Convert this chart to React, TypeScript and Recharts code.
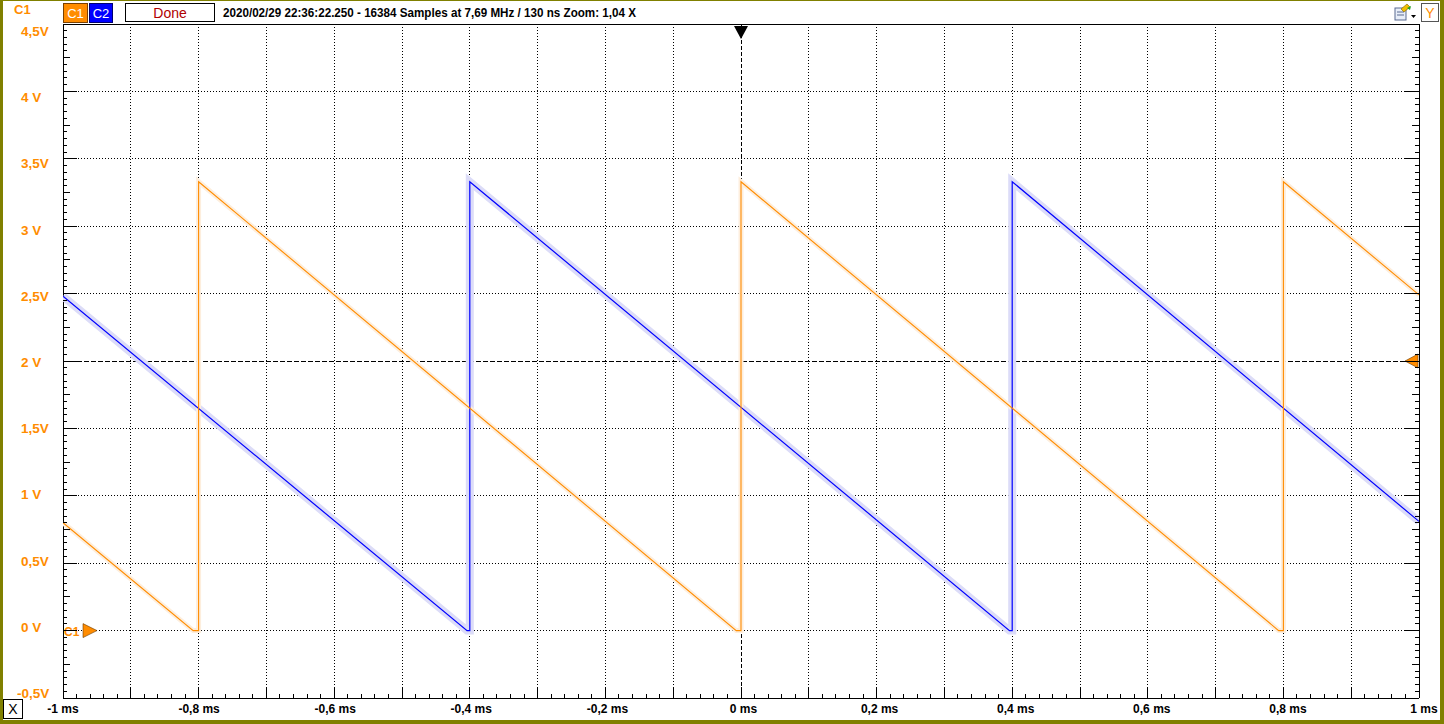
import React from "react";
import {
  CartesianGrid,
  Line,
  LineChart,
  ReferenceDot,
  ReferenceLine,
  XAxis,
  YAxis,
} from "recharts";

// waveform vertices (ms, V)
const c1Time = [-1, -0.808, -0.8, -0.8, -0.007, 0, 0, 0.793, 0.8, 0.8, 1];
const c1Volts = [0.8, 0, 0, 3.33, 0, 0, 3.33, 0, 0, 3.33, 2.49];
const c2Time = [-1, -0.404, -0.4, -0.4, 0.396, 0.4, 0.4, 1];
const c2Volts = [2.48, 0, 0, 3.33, 0, 0, 3.33, 0.81];

const timeLabels = [-1, -0.8, -0.6, -0.4, -0.2, 0, 0.2, 0.4, 0.6, 0.8, 1];
const voltLabels = [-0.5, 0, 0.5, 1, 1.5, 2, 2.5, 3, 3.5, 4, 4.5];
const gridTimes = [-0.9, -0.8, -0.7, -0.6, -0.5, -0.4, -0.3, -0.2, -0.1, 0.1, 0.2, 0.3, 0.4, 0.5, 0.6, 0.7, 0.8, 0.9];
const gridVolts = [0, 0.5, 1, 1.5, 2.5, 3, 3.5, 4];

const triggerLevel = 2;
const c1Offset = 0;

const bottomTicks = Array.from({ length: 101 }, (_, i) => Math.round((-1 + i * 0.02) * 1000) / 1000);
const topTicks = Array.from({ length: 121 }, (_, i) => (i - 60) / 60);
const sideTicks = Array.from({ length: 101 }, (_, i) => Math.round((-0.5 + i * 0.05) * 1000) / 1000);

const c1Data = c1Time.map((t, i) => ({ t, v: c1Volts[i] }));
const c2Data = c2Time.map((t, i) => ({ t, v: c2Volts[i] }));

const ORANGE = "#ff8c00";
const BLUE = "#0000ff";
const FONT = "'Liberation Sans', Arial, sans-serif";

const isLabel = (list: number[], v: number) => list.some((x) => Math.abs(x - v) < 1e-6);
const fmtVolt = (v: number) => (Number.isInteger(v) ? `${v} V` : `${String(v).replace(".", ",")}V`);
const fmtTime = (v: number) => `${String(v).replace(".", ",")} ms`;

const BottomTick = (props: any) => {
  const { x, y, payload } = props;
  const v = payload.value;
  const k = Math.round((v + 1) * 50);
  const len = k % 5 === 0 ? 11 : 4;
  return (
    <g>
      <line x1={x} x2={x} y1={y} y2={y - len} stroke="#000" shapeRendering="crispEdges" />
      {isLabel(timeLabels, v) && (
        <text
          x={x + (v + 1) * 2.5}
          y={y + 15}
          textAnchor="middle"
          fontFamily={FONT}
          fontWeight="bold"
          fontSize={12}
          fill="#000"
        >
          {fmtTime(v)}
        </text>
      )}
    </g>
  );
};

const TopTick = (props: any) => {
  const { x, y, payload } = props;
  const k = Math.round((payload.value + 1) * 60);
  const len = k % 6 === 0 ? 10 : 6;
  return <line x1={x} x2={x} y1={y} y2={y + len} stroke="#000" shapeRendering="crispEdges" />;
};

const sideLen = (v: number) => {
  const k = Math.round((v + 0.5) * 20);
  return k % 10 === 0 ? 14 : k % 5 === 0 ? 7 : 4;
};

const LeftTick = (props: any) => {
  const { x, y, payload } = props;
  const v = payload.value;
  const labelY = y + (-5 + (v + 0.5) * 2.4) + 5;
  return (
    <g>
      <line x1={x} x2={x + sideLen(v)} y1={y} y2={y} stroke="#000" shapeRendering="crispEdges" />
      {isLabel(voltLabels, v) && (
        <text
          x={x - (v < 0 ? 46 : 42)}
          y={labelY}
          textAnchor="start"
          fontFamily={FONT}
          fontWeight="bold"
          fontSize={13.5}
          fill={ORANGE}
        >
          {fmtVolt(v)}
        </text>
      )}
    </g>
  );
};

const RightTick = (props: any) => {
  const { x, y, payload } = props;
  return <line x1={x} x2={x - sideLen(payload.value)} y1={y} y2={y} stroke="#000" shapeRendering="crispEdges" />;
};

const TriggerTimeMark = (p: any) => (
  <path d={`M${p.cx - 7},${p.cy + 2} L${p.cx + 7},${p.cy + 2} L${p.cx},${p.cy + 15} Z`} fill="#000" />
);

const TriggerLevelMark = (p: any) => (
  <path
    d={`M${p.cx - 1},${p.cy - 7} L${p.cx - 1},${p.cy + 7} L${p.cx - 14},${p.cy} Z`}
    fill={ORANGE}
    stroke="#6b3a00"
    strokeWidth={0.6}
  />
);

const OffsetMark = (p: any) => (
  <g>
    <text x={p.cx + 1} y={p.cy + 5} fontFamily={FONT} fontWeight="bold" fontSize={12} fill={ORANGE}>
      C1
    </text>
    <path
      d={`M${p.cx + 20},${p.cy - 7} L${p.cx + 20},${p.cy + 7} L${p.cx + 34},${p.cy} Z`}
      fill={ORANGE}
      stroke="#6b3a00"
      strokeWidth={0.6}
    />
  </g>
);

const box = (extra: React.CSSProperties): React.CSSProperties => ({
  position: "absolute",
  boxSizing: "border-box",
  display: "flex",
  alignItems: "center",
  justifyContent: "center",
  fontFamily: FONT,
  ...extra,
});

const axisCommon = {
  interval: 0 as const,
  tickSize: 0,
  tickMargin: 0,
  tickLine: false,
  axisLine: false,
  allowDataOverflow: true,
  type: "number" as const,
};

export default function App() {
  return (
    <div
      style={{
        position: "absolute",
        left: 0,
        top: 0,
        width: 1444,
        height: 724,
        background: "#fff",
        overflow: "hidden",
      }}
    >
      <LineChart
        width={1444}
        height={724}
        margin={{ top: 23, right: 24, bottom: 25, left: 62 }}
        style={{ position: "absolute", left: 0, top: 0 }}
      >
        <XAxis xAxisId="g" type="number" dataKey="t" domain={[-1, 1]} ticks={gridTimes} hide allowDataOverflow />
        <YAxis yAxisId="g" type="number" domain={[-0.5, 4.5]} ticks={gridVolts} hide allowDataOverflow />
        <CartesianGrid xAxisId="g" yAxisId="g" stroke="#000" strokeDasharray="1 2" shapeRendering="crispEdges" />
        <XAxis {...axisCommon} dataKey="t" domain={[-1, 1]} ticks={bottomTicks} height={1} tick={<BottomTick />} />
        <XAxis {...axisCommon} xAxisId="top" orientation="top" domain={[-1, 1]} ticks={topTicks} height={1} tick={<TopTick />} />
        <YAxis {...axisCommon} domain={[-0.5, 4.5]} ticks={sideTicks} width={1} tick={<LeftTick />} />
        <YAxis {...axisCommon} yAxisId="right" orientation="right" domain={[-0.5, 4.5]} ticks={sideTicks} width={1} tick={<RightTick />} />

        <ReferenceLine y={triggerLevel} stroke="#000" strokeDasharray="5 2" shapeRendering="crispEdges" />
        <ReferenceLine x={0} stroke="#000" strokeDasharray="4 2" shapeRendering="crispEdges" />
        <ReferenceLine x={-1} stroke="#000" shapeRendering="crispEdges" />
        <ReferenceLine x={1} stroke="#000" shapeRendering="crispEdges" />
        <ReferenceLine y={-0.5} stroke="#000" shapeRendering="crispEdges" />
        <ReferenceLine y={4.5} stroke="#000" shapeRendering="crispEdges" />

        <Line data={c2Data} dataKey="v" type="linear" stroke="#dcdcf8" strokeWidth={8} dot={false} activeDot={false} isAnimationActive={false} />
        <Line data={c1Data} dataKey="v" type="linear" stroke="#fdeedd" strokeWidth={5} dot={false} activeDot={false} isAnimationActive={false} />
        <Line data={c2Data} dataKey="v" type="linear" stroke={BLUE} strokeWidth={1.2} dot={false} activeDot={false} isAnimationActive={false} />
        <Line data={c1Data} dataKey="v" type="linear" stroke={ORANGE} strokeWidth={1.1} dot={false} activeDot={false} isAnimationActive={false} />

        <ReferenceDot x={0} y={4.5} r={0} ifOverflow="visible" shape={<TriggerTimeMark />} />
        <ReferenceDot x={1} y={triggerLevel} r={0} ifOverflow="visible" shape={<TriggerLevelMark />} />
        <ReferenceDot x={-1} y={c1Offset} r={0} ifOverflow="visible" shape={<OffsetMark />} />
      </LineChart>

      {/* header strip */}
      <div style={{ position: "absolute", left: 14, top: 2, color: ORANGE, fontFamily: FONT, fontWeight: "bold", fontSize: 13 }}>C1</div>
      <div style={box({ left: 63, top: 3, width: 25, height: 20, background: ORANGE, color: "#fff", fontSize: 13, border: "1px solid #7a4000" })}>C1</div>
      <div style={box({ left: 89, top: 3, width: 24, height: 20, background: BLUE, color: "#fff", fontSize: 13, border: "1px solid #000070" })}>C2</div>
      <div style={box({ left: 125, top: 3, width: 90, height: 19, background: "#fff", color: "#b00000", fontSize: 14, border: "1px solid #000" })}>Done</div>
      <svg width={700} height={22} style={{ position: "absolute", left: 222, top: 2 }}>
        <text
          x={1}
          y={15}
          fontFamily={FONT}
          fontWeight="bold"
          fontSize={12.5}
          fill="#000"
          textLength={413}
          lengthAdjust="spacingAndGlyphs"
        >
          2020/02/29 22:36:22.250 - 16384 Samples at 7,69 MHz / 130 ns Zoom: 1,04 X
        </text>
      </svg>
      <svg width={24} height={20} style={{ position: "absolute", left: 1393, top: 3 }}>
        <rect x={2} y={5} width={11} height={12} fill="#e8eef8" stroke="#5a6a90" />
        <line x1={4} x2={11} y1={9} y2={9} stroke="#5a6a90" />
        <line x1={4} x2={11} y1={12} y2={12} stroke="#5a6a90" />
        <path d="M8,6 L14,1 L17,4 L11,9 Z" fill="#f0c000" stroke="#806000" strokeWidth={0.6} />
        <path d="M14,5 L18,3 L17,7 Z" fill="#20a020" />
        <path d="M18,12 L23,12 L20.5,15 Z" fill="#000" />
      </svg>
      <div style={box({ left: 1421, top: 3, width: 18, height: 19, background: "#fff", color: ORANGE, fontSize: 14, border: "1px solid #555" })}>Y</div>

      {/* close box bottom left */}
      <div style={box({ left: 3, top: 699, width: 20, height: 20, background: "#fff", color: "#000", fontSize: 14, border: "1px solid #000" })}>X</div>

      {/* window frame */}
      <div
        style={{
          position: "absolute",
          left: 0,
          top: 0,
          width: 1444,
          height: 724,
          boxSizing: "border-box",
          borderStyle: "solid",
          borderColor: "#808000",
          borderWidth: "1px 4px 4px 3px",
          pointerEvents: "none",
        }}
      />
    </div>
  );
}
